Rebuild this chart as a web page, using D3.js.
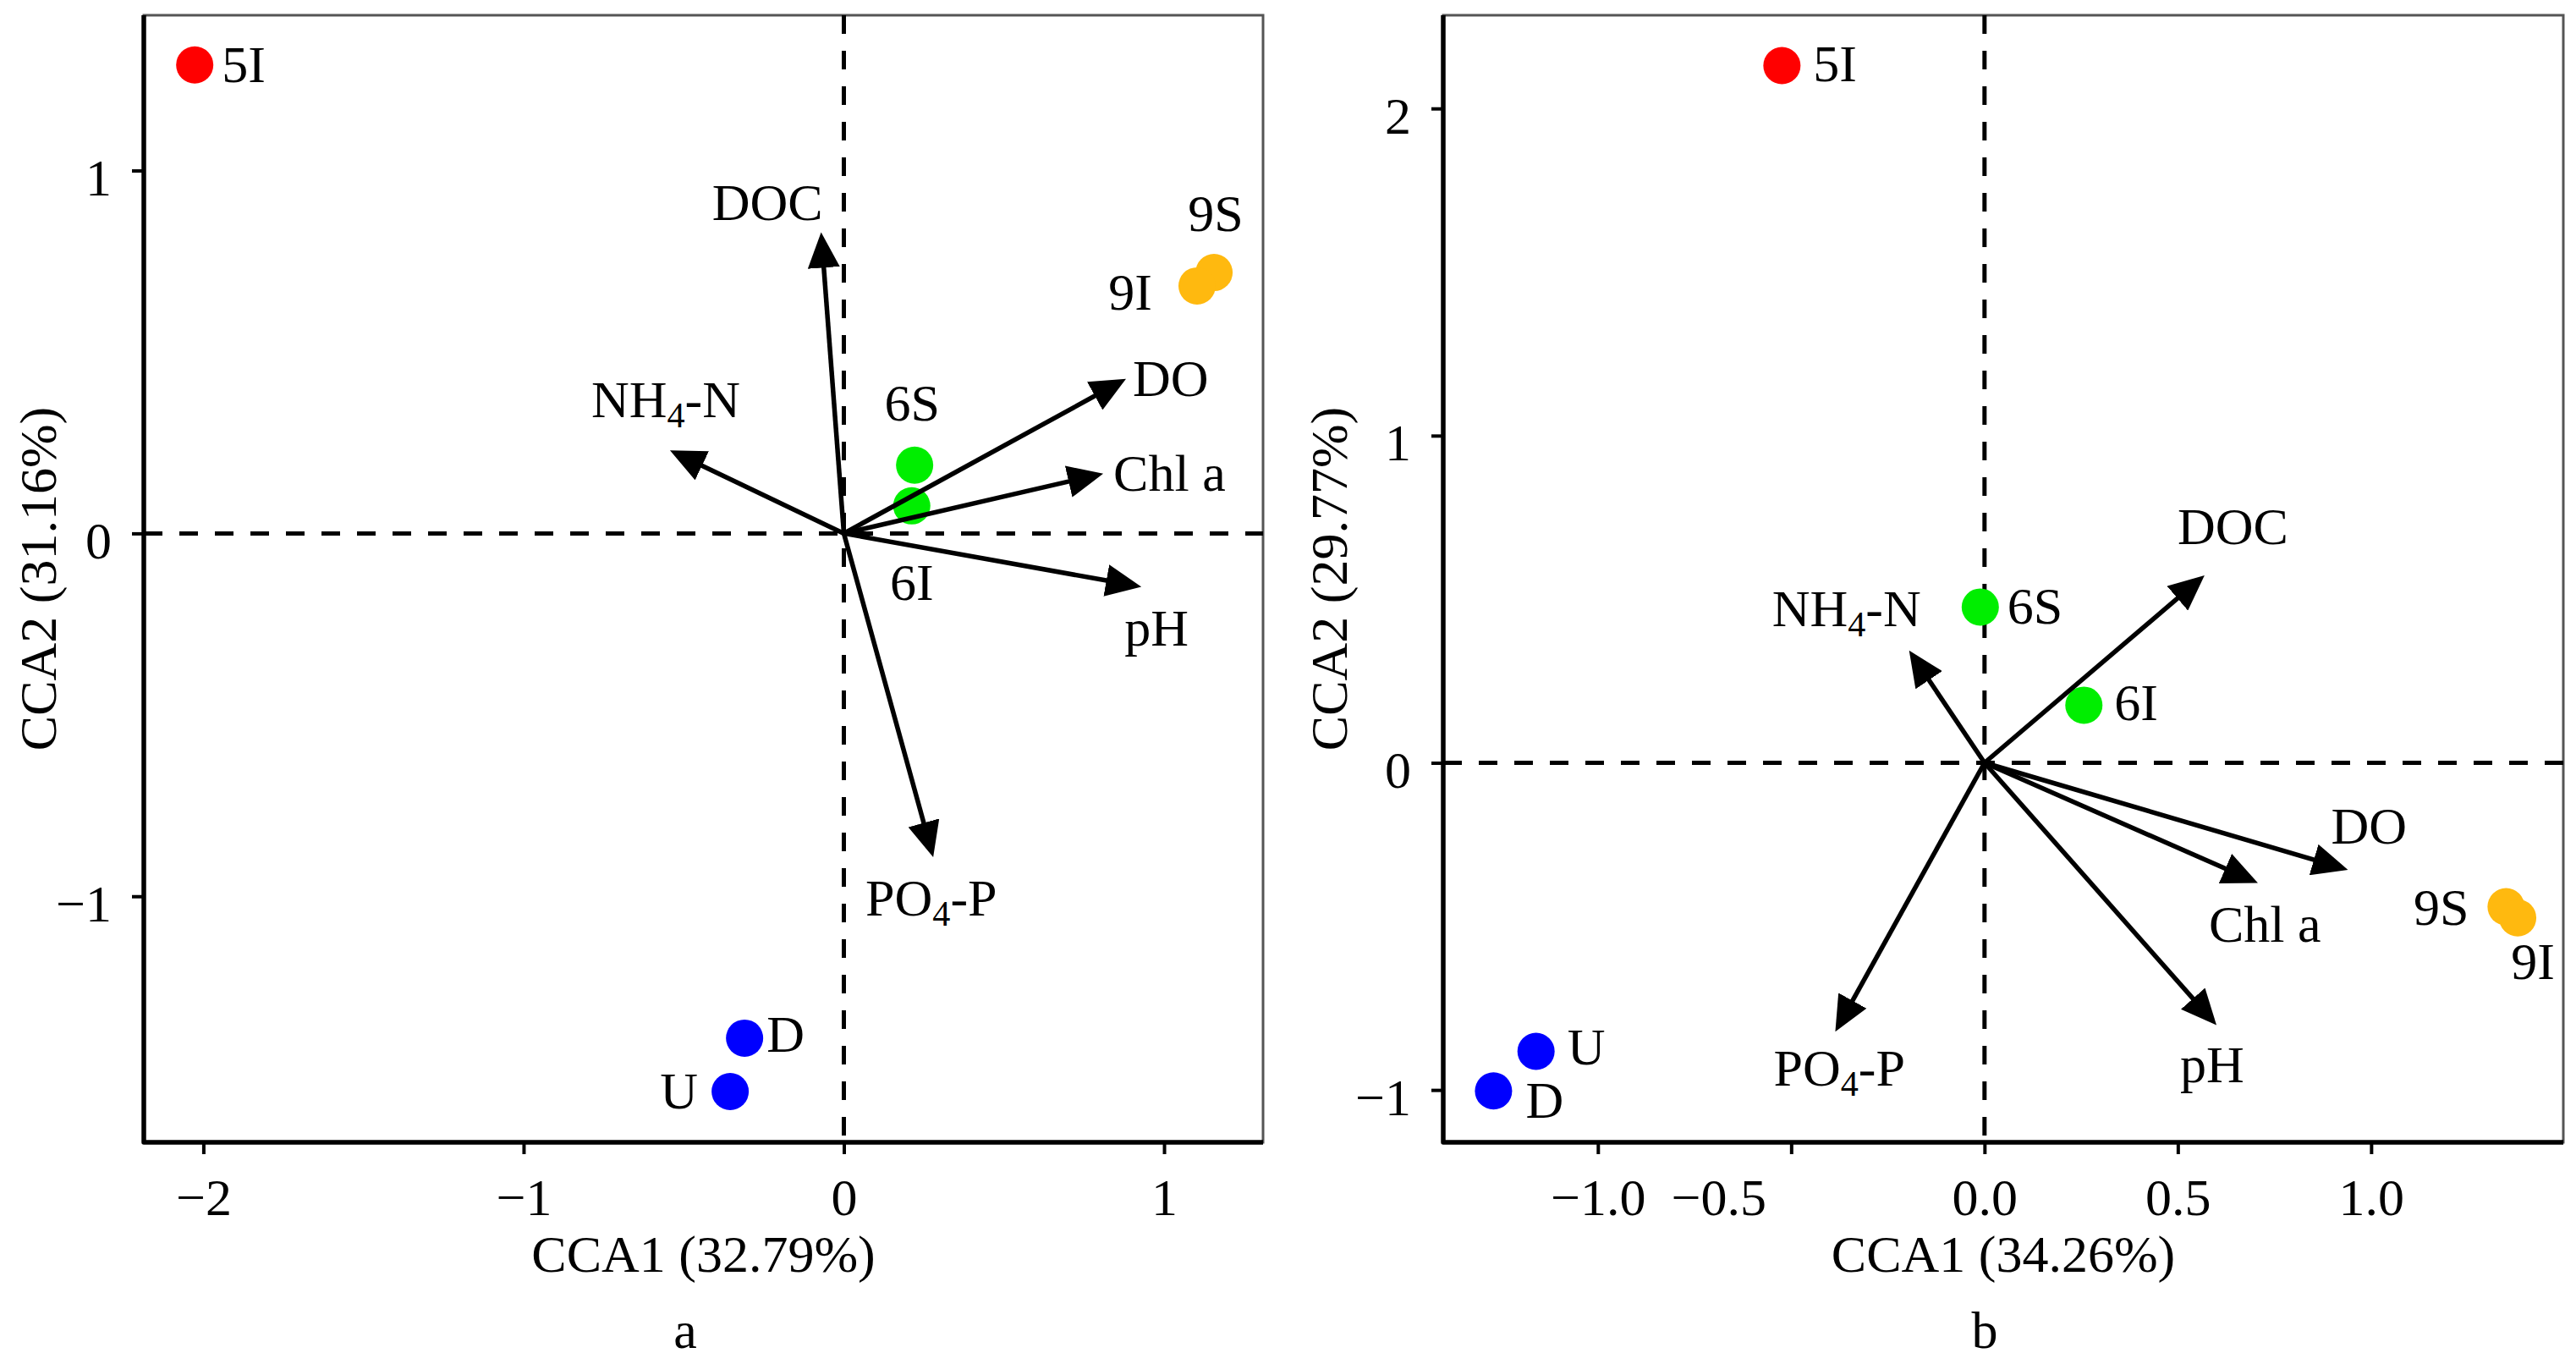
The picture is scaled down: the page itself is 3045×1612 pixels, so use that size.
<!DOCTYPE html>
<html>
<head>
<meta charset="utf-8">
<script src="https://cdn.jsdelivr.net/npm/d3@7"></script>
<style>
  html, body { margin: 0; padding: 0; background: #fff; }
  svg { display: block; }
  text { font-family: "Liberation Serif", "Times New Roman", serif; fill: #000; }
</style>
</head>
<body>
<svg id="chart" width="3045" height="1612"></svg>
<script>
// ---------------- DATA ----------------
const siteNames  = ["5I", "9S", "9I", "6S", "6I", "D", "U"];
const siteGroups = ["5", "9", "9", "6", "6", "R", "R"];

// panel a – site scores
const sitesA_cca1 = [-2.027, 1.156, 1.103, 0.221, 0.212, -0.310, -0.355];
const sitesA_cca2 = [ 1.291, 0.719, 0.682, 0.188, 0.076, -1.391, -1.538];
// panel b – site scores
const sitesB_cca1 = [-0.524, 1.349, 1.379, -0.011, 0.257, -1.270, -1.160];
const sitesB_cca2 = [ 2.131, -0.440, -0.474, 0.476, 0.176, -1.003, -0.882];

const envNames = ["DOC", "NH4-N", "DO", "Chl a", "pH", "PO4-P"];
// panel a – environmental vectors
const envA_cca1 = [-0.071, -0.543, 0.881, 0.810, 0.929, 0.279];
const envA_cca2 = [ 0.830, 0.229, 0.426, 0.165, -0.147, -0.892];
// panel b – environmental vectors
const envB_cca1 = [ 0.569, -0.195, 0.940, 0.707, 0.600, -0.386];
const envB_cca2 = [ 0.573, 0.343, -0.327, -0.367, -0.802, -0.822];

const ticksA_x = [-2, -1, 0, 1];
const ticksA_y = [-1, 0, 1];
const ticksB_x = [-1, -0.5, 0, 0.5, 1];
const ticksB_y = [-1, 0, 1, 2];

const titlesA = { x: "CCA1 (32.79%)", y: "CCA2 (31.16%)", panel: "a" };
const titlesB = { x: "CCA1 (34.26%)", y: "CCA2 (29.77%)", panel: "b" };

// ---------------- STYLE / LAYOUT ----------------
const groupColor = { "5": "#FF0000", "9": "#FFB90F", "6": "#00EE00", "R": "#0000FF" };
const FS = 62;

// label placement: [anchor, dx, dy(baseline)] relative to point / arrow tip
const siteLabelA = { "5I": ["start", 32, 20], "9S": ["middle", 2, -49], "9I": ["end", -53, 28],
  "6S": ["middle", -3, -53], "6I": ["middle", 0, 111], "D": ["start", 26, 16], "U": ["end", -38, 20] };
const siteLabelB = { "5I": ["start", 37, 18], "9S": ["end", -44, 21], "9I": ["middle", 18, 72],
  "6S": ["start", 32, 20], "6I": ["start", 36, 18], "D": ["start", 38, 32], "U": ["start", 37, 15] };
const envLabelA = { "DOC": ["end", 2, -14], "NH4-N": ["middle", -5, -39], "DO": ["start", 8, 20],
  "Chl a": ["start", 12, 20], "pH": ["start", -20, 70], "PO4-P": ["start", -80, 69] };
const envLabelB = { "DOC": ["start", -32, -37], "NH4-N": ["end", 14, -29], "DO": ["start", -20, -31],
  "Chl a": ["start", -58, 70], "pH": ["start", -43, 67], "PO4-P": ["start", -73, 64] };

const svg = d3.select("#chart");
svg.append("rect").attr("width", 3045).attr("height", 1612).attr("fill", "#fff");

const defs = svg.append("defs");
defs.append("marker")
  .attr("id", "ah")
  .attr("markerUnits", "userSpaceOnUse")
  .attr("viewBox", "0 0 42 38")
  .attr("markerWidth", 42).attr("markerHeight", 38)
  .attr("refX", 20).attr("refY", 19)
  .attr("orient", "auto")
  .append("path").attr("d", "M0,0 L42,19 L0,38 Z").attr("fill", "#000");

function addLabel(g, text, x, y, anchor) {
  const t = g.append("text").attr("x", x).attr("y", y).attr("text-anchor", anchor).attr("font-size", FS);
  if (text.includes("4")) {
    const parts = text.split("4");
    t.append("tspan").text(parts[0]);
    t.append("tspan").text("4").attr("font-size", FS * 0.68).attr("dy", 12);
    t.append("tspan").text(parts[1]).attr("dy", -12);
  } else {
    t.text(text);
  }
  return t;
}

function drawPanel(cfg) {
  const g = svg.append("g");
  const x = d3.scaleLinear().domain(cfg.xDomain).range([cfg.left, cfg.right]);
  const y = d3.scaleLinear().domain(cfg.yDomain).range([cfg.bottom, cfg.top]);

  // frame (top/right)
  g.append("rect")
    .attr("x", cfg.left).attr("y", cfg.top)
    .attr("width", cfg.right - cfg.left).attr("height", cfg.bottom - cfg.top)
    .attr("fill", "none").attr("stroke", "#555").attr("stroke-width", 3);

  // dashed zero lines
  g.append("line")
    .attr("x1", x(0)).attr("x2", x(0)).attr("y1", cfg.top).attr("y2", cfg.bottom)
    .attr("stroke", "#000").attr("stroke-width", 5).attr("stroke-dasharray", "22,20");
  g.append("line")
    .attr("x1", cfg.left).attr("x2", cfg.right).attr("y1", y(0)).attr("y2", y(0))
    .attr("stroke", "#000").attr("stroke-width", 5).attr("stroke-dasharray", "22,20");

  // site points
  const sites = siteNames.map((n, i) => ({ name: n, group: siteGroups[i], x: cfg.sx[i], y: cfg.sy[i] }));
  g.selectAll("circle.site").data(sites).join("circle")
    .attr("class", "site")
    .attr("cx", d => x(d.x)).attr("cy", d => y(d.y))
    .attr("r", 22)
    .attr("fill", d => groupColor[d.group]);

  // env arrows
  const env = envNames.map((n, i) => ({ name: n, x: cfg.ex[i], y: cfg.ey[i] }));
  const ox = x(0), oy = y(0);
  g.selectAll("line.env").data(env).join("line")
    .attr("class", "env")
    .attr("x1", ox).attr("y1", oy)
    .attr("x2", d => { const tx = x(d.x), ty = y(d.y); const L = Math.hypot(tx - ox, ty - oy); return tx - (tx - ox) / L * 22; })
    .attr("y2", d => { const tx = x(d.x), ty = y(d.y); const L = Math.hypot(tx - ox, ty - oy); return ty - (ty - oy) / L * 22; })
    .attr("stroke", "#000").attr("stroke-width", 5.5)
    .attr("marker-end", "url(#ah)");

  // labels
  sites.forEach(d => {
    const p = cfg.siteLab[d.name];
    addLabel(g, d.name, x(d.x) + p[1], y(d.y) + p[2], p[0]);
  });
  env.forEach(d => {
    const p = cfg.envLab[d.name];
    addLabel(g, d.name, x(d.x) + p[1], y(d.y) + p[2], p[0]);
  });

  // axes
  const gx = g.append("g").attr("transform", `translate(0,${cfg.bottom})`)
    .call(d3.axisBottom(x).tickValues(cfg.xTicks).tickFormat(cfg.xFmt).tickSize(14).tickPadding(28));
  const gy = g.append("g").attr("transform", `translate(${cfg.left},0)`)
    .call(d3.axisLeft(y).tickValues(cfg.yTicks).tickFormat(d3.format("d")).tickSize(14).tickPadding(24));
  [gx, gy].forEach(a => {
    a.attr("font-size", null).attr("font-family", null);
    a.select(".domain").remove();
    a.selectAll(".tick line").attr("stroke", "#000").attr("stroke-width", 4);
    a.selectAll(".tick text").attr("font-size", FS).attr("fill", "#000");
  });
  gy.selectAll(".tick text").attr("dy", "0.47em");
  if (cfg.shiftTick !== undefined) {
    gx.selectAll(".tick").filter(d => d === cfg.shiftTick).select("text").attr("x", -86);
  }

  // axis lines (left/bottom)
  g.append("path")
    .attr("d", `M${cfg.left},${cfg.top}V${cfg.bottom}H${cfg.right}`)
    .attr("fill", "none").attr("stroke", "#000").attr("stroke-width", 5.5)
    .attr("stroke-linejoin", "round");

  // titles
  g.append("text").attr("x", (cfg.left + cfg.right) / 2).attr("y", 1503)
    .attr("text-anchor", "middle").attr("font-size", FS).text(cfg.titles.x);
  g.append("text")
    .attr("transform", `translate(${cfg.yTitleX},${(cfg.top + cfg.bottom) / 2}) rotate(-90)`)
    .attr("text-anchor", "middle").attr("font-size", FS).text(cfg.titles.y);
  g.append("text").attr("x", cfg.panelLabelX).attr("y", 1593)
    .attr("text-anchor", "middle").attr("font-size", FS).text(cfg.titles.panel);
}

drawPanel({
  left: 170, right: 1493, top: 18, bottom: 1350,
  xDomain: [-2.186, 1.309], yDomain: [-1.678, 1.428],
  sx: sitesA_cca1, sy: sitesA_cca2, ex: envA_cca1, ey: envA_cca2,
  xTicks: ticksA_x, yTicks: ticksA_y, xFmt: d3.format("d"),
  siteLab: siteLabelA, envLab: envLabelA, titles: titlesA,
  yTitleX: 66, panelLabelX: 810
});

drawPanel({
  left: 1706, right: 3030, top: 18, bottom: 1350,
  xDomain: [-1.400, 1.497], yDomain: [-1.160, 2.285],
  sx: sitesB_cca1, sy: sitesB_cca2, ex: envB_cca1, ey: envB_cca2,
  xTicks: ticksB_x, yTicks: ticksB_y, xFmt: d3.format(".1f"),
  siteLab: siteLabelB, envLab: envLabelB, titles: titlesB,
  yTitleX: 1592, panelLabelX: 2346, shiftTick: -0.5
});
</script>
</body>
</html>
